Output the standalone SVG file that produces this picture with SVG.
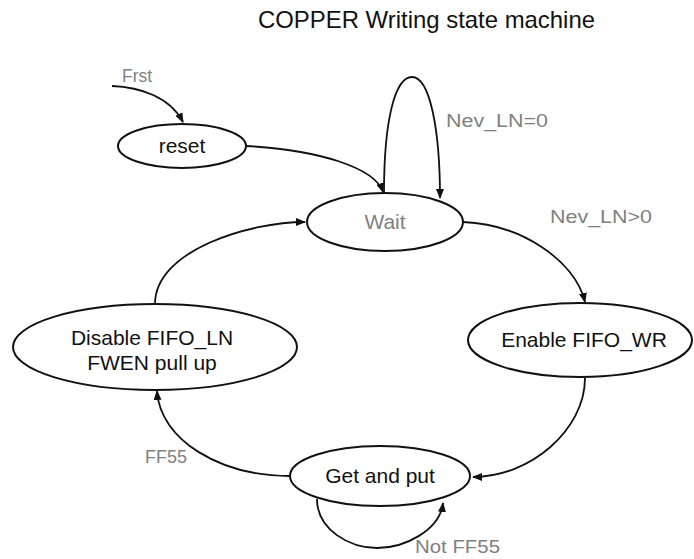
<svg xmlns="http://www.w3.org/2000/svg" width="694" height="559" viewBox="0 0 694 559">
<style>
.node{fill:#fff;stroke:#111;stroke-width:2}
.nt{font-family:"Liberation Sans",Arial,sans-serif;font-size:21px;fill:#111;text-anchor:middle}
.lbl{font-family:"Liberation Sans",Arial,sans-serif;font-size:18px;fill:#808080}
.edge{fill:none;stroke:#111;stroke-width:1.8;marker-end:url(#ah)}
</style>
<defs>
<marker id="ah" markerUnits="userSpaceOnUse" markerWidth="10" markerHeight="8" refX="9" refY="4" orient="auto">
<path d="M0,0 L10,4 L0,8 Z" fill="#111"/>
</marker>
</defs>
<rect width="694" height="559" fill="#fff"/>
<text x="258" y="28" font-family="'Liberation Sans',Arial,sans-serif" font-size="24" fill="#111" textLength="337" lengthAdjust="spacingAndGlyphs">COPPER Writing state machine</text>
<g id="connectors">
<path class="edge" d="M112 86 C140 87 170 97 183 122"/>
<path class="edge" d="M246 146 C320 150 375 168 383 192"/>
<path class="edge" d="M384 193 C384 120 395 77 412 77 C430 77 440 130 440 198"/>
<path class="edge" d="M463 222 C520 224 575 260 585 302"/>
<path class="edge" d="M585 378 C585 430 530 477 473 477"/>
<path class="edge" d="M290 476 C220 476 160 440 157 391"/>
<path class="edge" d="M317 499 C317 530 350 548 377 548 C405 548 440 530 443 503"/>
<path class="edge" d="M155 304 C155 250 250 222 305 222"/>
<text class="lbl" x="122" y="82" textLength="30" lengthAdjust="spacingAndGlyphs">Frst</text>
<text class="lbl" x="446" y="127" textLength="102" lengthAdjust="spacingAndGlyphs">Nev_LN=0</text>
<text class="lbl" x="550" y="223" textLength="102" lengthAdjust="spacingAndGlyphs">Nev_LN&gt;0</text>
<text class="lbl" x="145" y="463" textLength="42" lengthAdjust="spacingAndGlyphs">FF55</text>
<text class="lbl" x="415" y="553" textLength="85" lengthAdjust="spacingAndGlyphs">Not FF55</text>
</g>
<g id="reset">
<ellipse class="node" cx="182" cy="146" rx="64" ry="22"/>
<text class="nt" x="182" y="153">reset</text>
</g>
<g id="wait">
<ellipse class="node" cx="385" cy="222" rx="78" ry="29"/>
<text class="nt" x="385" y="229" style="fill:#808080">Wait</text>
</g>
<g id="enable">
<ellipse class="node" cx="580" cy="340" rx="112" ry="37"/>
<text class="nt" x="584" y="347">Enable FIFO_WR</text>
</g>
<g id="disable">
<ellipse class="node" cx="155" cy="347" rx="142" ry="43"/>
<text class="nt" x="152" y="345">Disable FIFO_LN</text>
<text class="nt" x="152" y="370">FWEN pull up</text>
</g>
<g id="getput">
<ellipse class="node" cx="380" cy="476" rx="90" ry="30"/>
<text class="nt" x="380" y="483">Get and put</text>
</g>
</svg>
